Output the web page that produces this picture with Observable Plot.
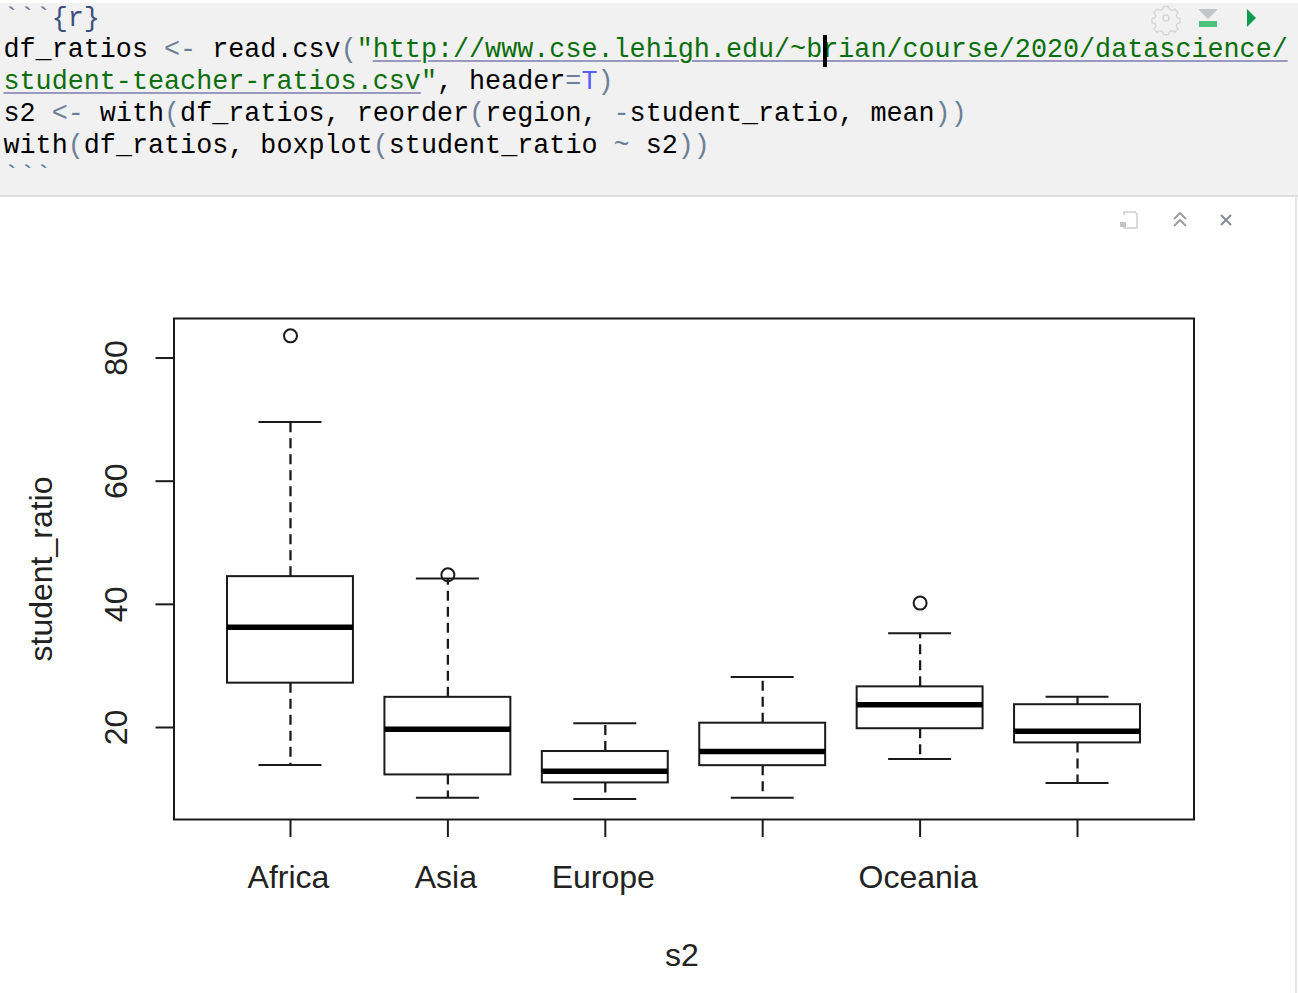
<!DOCTYPE html>
<html>
<head>
<meta charset="utf-8">
<script src="https://cdn.jsdelivr.net/npm/d3@7"></script>
<script src="https://cdn.jsdelivr.net/npm/@observablehq/plot@0.6"></script>
<style>
html,body{margin:0;padding:0;background:#fff;width:1298px;height:993px;overflow:hidden}
#page{position:relative;width:1298px;height:993px;overflow:hidden}
#editor{position:absolute;left:0;top:3px;width:1298px;height:192px;background:#f1f1f1;border-bottom:2px solid #dfdfdf}
.ln{position:absolute;left:3.5px;font:26.75px/30px "Liberation Mono",monospace;white-space:pre;color:#000;letter-spacing:0}
.p{color:#6c7f97}.s{color:#0a6e0a}.t{color:#5c5cf0}.b{color:#3b4f81}
.u{text-decoration:underline;text-decoration-color:#9999c0;text-decoration-thickness:2px;text-underline-offset:3px}
#caret{position:absolute;left:822.5px;top:35px;width:4px;height:32px;background:#000}
#rightline{position:absolute;left:1295px;top:197px;width:2px;height:796px;background:#e4e4e4}
#chart{position:absolute;left:0;top:197px}
#chart svg{display:block;background:transparent}
.ic{position:absolute;left:0;top:0}
</style>
</head>
<body>
<div id="page">
  <div id="editor"></div>
  <div class="ln" style="top:4px"><span class="p">```</span><span class="b">{r}</span></div>
  <div class="ln" style="top:35px">df_ratios <span class="p">&lt;-</span> read.csv<span class="p">(</span><span class="s">"</span><span class="s u">http://www.cse.lehigh.edu/~brian/course/2020/datascience/</span></div>
  <div class="ln" style="top:67px"><span class="s u">student-teacher-ratios.csv</span><span class="s">"</span>, header<span class="p">=</span><span class="t">T</span><span class="p">)</span></div>
  <div class="ln" style="top:99px">s2 <span class="p">&lt;-</span> with<span class="p">(</span>df_ratios, reorder<span class="p">(</span>region, <span class="p">-</span>student_ratio, mean<span class="p">))</span></div>
  <div class="ln" style="top:131px">with<span class="p">(</span>df_ratios, boxplot<span class="p">(</span>student_ratio <span class="p">~</span> s2<span class="p">))</span></div>
  <div class="ln" style="top:162px"><span class="p">```</span></div>
  <div id="caret"></div>
  <div id="rightline"></div>
  <div id="chart"></div>
  <svg class="ic" width="1298" height="240" fill="none">
    <g stroke="#d4d4d4" stroke-width="1.3">
      <circle cx="1166" cy="18" r="3"/>
      <path d="M1163.5 6.5h5l1 3 2.5 1 3-1.500 3 3.500-1.800 2.700 .8 2.600 3 .8v4.200l-3 .8-.8 2.600 1.800 2.700-3 3.200-3-1.500-2.500 1-1 3h-5l-1-3-2.500-1-3 1.500-3-3.200 1.800-2.700-.8-2.600-3-.8v-4.200l3-.8 .8-2.600-1.800-2.700 3-3.500 3 1.500 2.500-1z"/>
    </g>
    <path d="M1198 9h20l-10 10z" fill="#c2c4c6"/>
    <rect x="1199" y="21" width="18" height="6" fill="#4cc27a"/>
    <path d="M1247 9l9 9-9 9z" fill="#0c9c50"/>
    <path d="M1124 215v-3h11l2 2v14h-14" stroke="#d0d0d0" stroke-width="1.500"/>
    <path d="M1120 222h6v5h-6z" fill="#c4c4c4"/>
    <path d="M1174 219l6-6 6 6M1174 226l6-6 6 6" stroke="#9a9a9a" stroke-width="1.800"/>
    <path d="M1221 215l10 10M1231 215l-10 10" stroke="#858b96" stroke-width="2"/>
  </svg>
</div>
<script>
const regions = ["Africa","Asia","Europe","North America","Oceania","South America"];
const tickLabels = ["Africa","Asia","Europe","","Oceania",""];
const position = [1,2,3,4,5,6];
const whiskerLow = [13.9,8.6,8.4,8.6,14.9,11.0];
const boxLow =     [27.2,12.3,11.0,13.8,19.8,17.5];
const median =     [36.3,19.7,12.9,16.1,23.7,19.4];
const boxHigh =    [44.5,24.9,16.1,20.7,26.6,23.7];
const whiskerHigh =[69.6,44.2,20.7,28.2,35.3,25.0];
const outlierPos = [1,2,5];
const outlierVal = [83.6,44.8,40.2];
const yTicks = [20,40,60,80];
const xTitle = ["s2"];

const rows = regions.map((r,i)=>({region:r,i:position[i],lo:whiskerLow[i],q1:boxLow[i],med:median[i],q3:boxHigh[i],hi:whiskerHigh[i]}));
const outliers = outlierPos.map((p,i)=>({i:p,v:outlierVal[i]}));
const ink = "#1a1a1a";
const font = '"Liberation Sans",Arial,sans-serif';

const chart = Plot.plot({
  width:1298, height:796,
  marginLeft:173.5, marginRight:104.5, marginTop:121, marginBottom:174,
  style:{fontFamily:font,fontSize:"32px",color:"#222",background:"transparent"},
  x:{domain:[0.26,6.74],label:null},
  y:{domain:[5.06,86.42],label:null},
  marks:[
    Plot.ruleX(rows,{x:"i",y1:"q3",y2:"hi",stroke:ink,strokeWidth:2.3,strokeDasharray:"10,6"}),
    Plot.ruleX(rows,{x:"i",y1:"q1",y2:"lo",stroke:ink,strokeWidth:2.3,strokeDasharray:"10,6"}),
    Plot.ruleY(rows,{y:"hi",x1:d=>d.i-0.2,x2:d=>d.i+0.2,stroke:ink,strokeWidth:2}),
    Plot.ruleY(rows,{y:"lo",x1:d=>d.i-0.2,x2:d=>d.i+0.2,stroke:ink,strokeWidth:2}),
    Plot.rect(rows,{x1:d=>d.i-0.4,x2:d=>d.i+0.4,y1:"q1",y2:"q3",fill:"white",stroke:ink,strokeWidth:2}),
    Plot.ruleY(rows,{y:"med",x1:d=>d.i-0.4,x2:d=>d.i+0.4,stroke:"#000",strokeWidth:5.5}),
    Plot.dot(outliers,{x:"i",y:"v",r:6.5,stroke:ink,strokeWidth:2,fill:"none"}),
    Plot.frame({stroke:ink,strokeWidth:2}),
    Plot.axisY({ticks:yTicks,tickSize:18,tickRotate:-90,tickPadding:29,strokeWidth:2,stroke:ink,
      fontSize:32,label:"student_ratio",labelArrow:"none",labelAnchor:"center",labelOffset:145}),
    Plot.axisX({ticks:position,tickSize:18,tickFormat:()=>"",label:null,strokeWidth:2,stroke:ink}),
    Plot.axisX({ticks:position,tickSize:0,tickPadding:46,fontSize:32,dx:-2,
      tickFormat:d=>tickLabels[d-1],label:null}),
    Plot.text(xTitle,{frameAnchor:"bottom",text:d=>d,fontSize:32,lineAnchor:"middle",dy:136,dx:-2})
  ]
});
document.getElementById("chart").appendChild(chart);
</script>
</body>
</html>
